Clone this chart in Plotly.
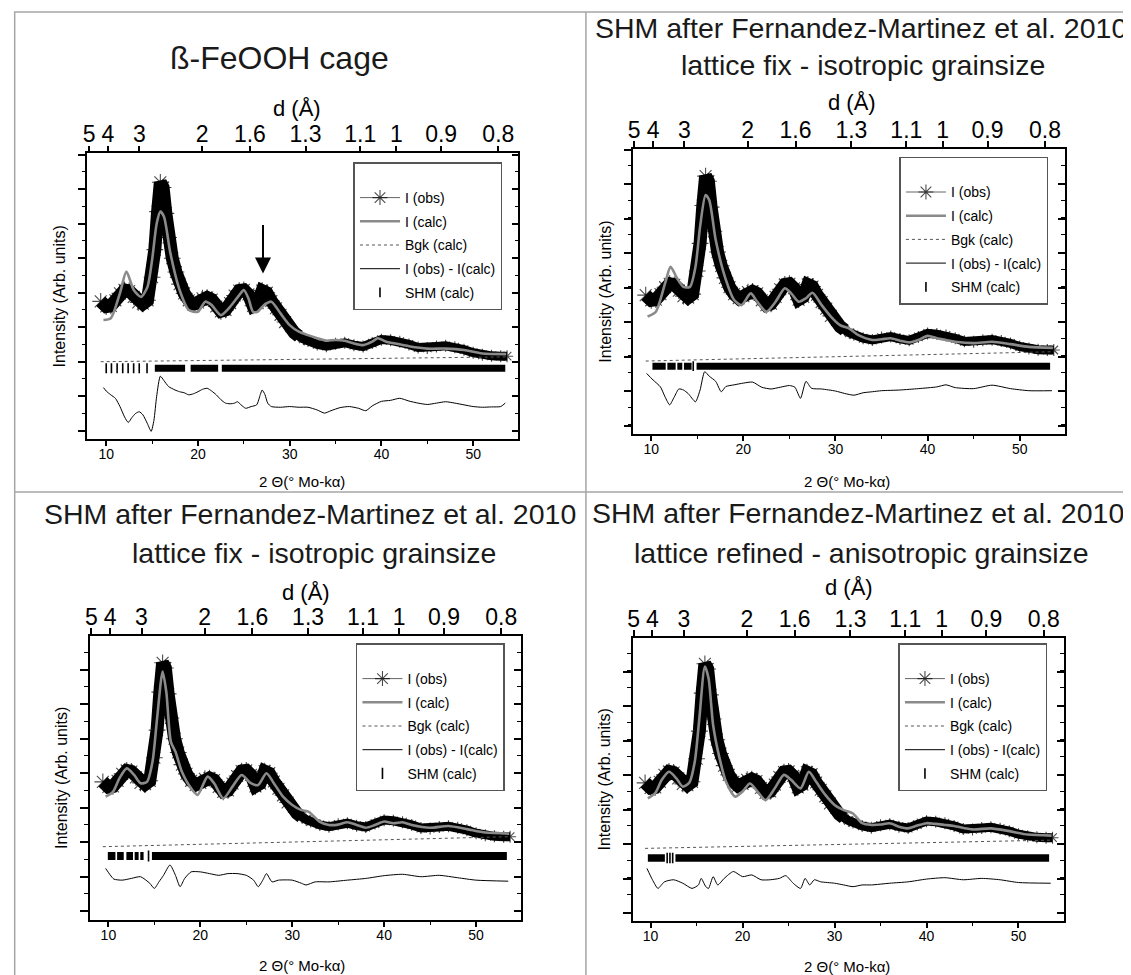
import numpy as np
import plotly.graph_objects as go

# page is 1131x975; the html body keeps an 8px margin at top/left
PAGE_W, PAGE_H, OFF = 1131, 975, 8
W, H = PAGE_W - OFF, PAGE_H - OFF
FONT = "Liberation Sans, Arial, sans-serif"
LAMBDA = 0.7107  # Mo K-alpha wavelength (Angstrom)

# ---------------- data ----------------
# observed pattern (same sample in all four panels)
obs_tth = [9.4, 10.0, 10.5, 11.0, 11.5, 12.0, 12.5, 13.0, 13.5, 14.0, 14.5, 15.0, 15.3, 15.6,
           15.9, 16.2, 16.5, 16.8, 17.2, 17.6, 18.0, 18.5, 19.0, 19.5, 20.0, 20.5, 21.0, 21.5,
           22.0, 22.5, 23.0, 23.5, 24.0, 24.5, 25.0, 25.5, 26.0, 26.5, 27.0, 27.5, 28.0, 28.5,
           29.0, 29.5, 30.0, 30.5, 31.0, 31.5, 32.0, 33.0, 34.0, 35.0, 36.0, 37.0, 38.0, 39.0,
           40.0, 41.0, 42.0, 43.0, 44.0, 45.0, 46.0, 47.0, 48.0, 49.0, 50.0, 51.0, 52.0, 53.0, 53.7]
obs_int = [1.75, 1.60, 1.62, 1.78, 1.98, 2.08, 2.05, 1.88, 1.72, 1.68, 1.78, 2.45, 3.25, 4.35,
           5.20, 5.05, 4.30, 3.60, 3.00, 2.60, 2.25, 1.98, 1.78, 1.66, 1.72, 1.84, 1.86, 1.80,
           1.60, 1.46, 1.50, 1.70, 1.92, 2.06, 2.08, 1.95, 1.62, 1.70, 2.06, 2.00, 1.76, 1.55,
           1.36, 1.15, 0.98, 0.84, 0.74, 0.66, 0.60, 0.50, 0.45, 0.52, 0.55, 0.48, 0.44, 0.54,
           0.64, 0.62, 0.58, 0.50, 0.41, 0.40, 0.44, 0.46, 0.42, 0.35, 0.26, 0.20, 0.17, 0.16, 0.16]

# panel 1: beta-FeOOH cage
calc1_tth = [9.7, 10.5, 11.5, 12.2, 13.0, 13.8, 14.5, 15.0, 15.5, 15.9, 16.3, 17.0, 18.0, 19.0,
             20.0, 20.8, 21.5, 22.5, 23.5, 24.5, 25.0, 25.5, 26.0, 26.5, 27.2, 28.0, 29.0, 30.0,
             31.0, 32.0, 33.0, 34.0, 35.0, 36.0, 37.0, 38.0, 39.0, 39.6, 40.5, 41.5, 43.0, 45.0,
             47.0, 49.0, 51.0, 53.6]
calc1_int = [1.21, 1.26, 1.99, 2.61, 2.08, 1.88, 2.17, 2.95, 4.00, 4.35, 4.20, 3.14, 2.08, 1.50,
             1.45, 1.74, 1.64, 1.35, 1.59, 1.93, 2.08, 1.84, 1.45, 1.45, 1.64, 1.74, 1.40, 1.06,
             0.87, 0.77, 0.68, 0.61, 0.63, 0.61, 0.53, 0.48, 0.58, 0.68, 0.58, 0.53, 0.45, 0.38,
             0.38, 0.34, 0.24, 0.22]
diff1_tth = [9.7, 10.0, 10.5, 11.0, 11.5, 12.0, 12.4, 12.8, 13.2, 13.6, 14.0, 14.5, 14.9, 15.2,
             15.5, 15.9, 16.3, 16.8, 17.5, 18.0, 18.5, 19.0, 19.5, 20.0, 20.5, 21.0, 21.5, 22.0,
             22.5, 23.0, 23.5, 24.0, 24.3, 24.7, 25.2, 25.8, 26.4, 26.8, 27.0, 27.3, 27.6, 28.0,
             29.0, 30.0, 31.0, 32.0, 33.0, 33.8, 34.5, 35.5, 36.5, 37.5, 38.3, 39.0, 40.0, 41.0,
             42.0, 43.0, 44.0, 45.0, 46.0, 47.0, 48.0, 49.0, 50.0, 51.0, 52.0, 53.0, 53.5]
diff1_int = [-0.75, -0.85, -0.96, -1.06, -1.30, -1.60, -1.76, -1.62, -1.50, -1.45, -1.54, -1.80,
             -2.02, -1.70, -1.00, -0.42, -0.55, -0.72, -0.82, -0.87, -0.90, -0.96, -0.93, -0.87,
             -0.80, -0.77, -0.85, -0.96, -1.10, -1.20, -1.22, -1.20, -1.16, -1.25, -1.35, -1.30,
             -1.25, -0.95, -0.82, -0.95, -1.20, -1.30, -1.32, -1.30, -1.32, -1.32, -1.40, -1.49,
             -1.42, -1.33, -1.30, -1.35, -1.42, -1.28, -1.15, -1.12, -1.06, -1.14, -1.20, -1.24,
             -1.20, -1.16, -1.20, -1.25, -1.30, -1.32, -1.31, -1.30, -1.20]
bgk1_tth = [9.4, 31.5, 53.7]
bgk1_int = [0.00, 0.07, 0.14]
shm1_ticks = [10.0, 10.57, 11.19, 11.8, 12.39, 12.99, 13.6, 14.45]
shm1_bands = [(15.3, 18.6), (19.2, 22.2), (22.6, 53.5)]

# panel 2: SHM, lattice fix - isotropic grainsize
calc2_tth = [9.6, 10.5, 11.5, 12.1, 12.8, 13.5, 14.2, 14.8, 15.3, 15.9, 16.3, 17.0, 18.0, 19.0,
             19.8, 20.8, 21.5, 22.5, 23.5, 24.5, 25.2, 26.0, 26.8, 27.5, 28.5, 29.5, 30.5, 31.5,
             32.5, 34.0, 35.0, 36.0, 37.0, 38.0, 39.0, 40.0, 41.0, 42.0, 43.0, 45.0, 47.0, 49.0,
             51.0, 53.6]
calc2_int = [1.13, 1.27, 2.09, 2.57, 2.24, 1.99, 1.99, 2.57, 3.73, 4.65, 4.50, 3.35, 2.28, 1.61,
             1.46, 1.80, 1.56, 1.27, 1.56, 1.95, 1.80, 1.56, 1.66, 1.82, 1.46, 1.13, 0.88, 0.78,
             0.59, 0.45, 0.47, 0.50, 0.43, 0.38, 0.45, 0.57, 0.50, 0.45, 0.40, 0.36, 0.40, 0.33,
             0.25, 0.22]
diff2_tth = [9.5, 10.2, 11.0, 11.5, 12.0, 12.5, 13.0, 13.5, 14.0, 14.8, 15.3, 15.8, 16.3, 17.0,
             17.6, 18.1, 19.0, 20.0, 21.0, 22.0, 23.0, 24.0, 25.0, 25.6, 26.2, 26.8, 27.4, 28.5,
             30.0, 31.0, 32.0, 33.0, 34.0, 35.0, 37.0, 39.0, 41.0, 42.0, 43.0, 45.0, 47.0, 49.0,
             51.0, 53.5]
diff2_int = [-0.52, -0.71, -0.91, -1.20, -1.43, -1.20, -0.97, -1.00, -1.10, -1.34, -1.00, -0.47,
             -0.60, -0.75, -1.05, -0.90, -0.85, -0.80, -0.77, -0.92, -0.97, -0.92, -0.87, -0.92,
             -1.24, -0.75, -0.95, -0.97, -1.03, -1.10, -1.15, -1.08, -1.05, -1.02, -1.00, -0.96,
             -0.91, -0.85, -0.93, -0.96, -0.86, -0.96, -1.02, -1.02]
bgk2_tth = [9.4, 31.5, 53.7]
bgk2_int = [-0.16, -0.03, 0.11]
shm2_ticks = [14.56]
shm2_bands = [(10.13, 11.57), (11.75, 12.65), (12.83, 13.37), (13.55, 14.38), (14.92, 53.3)]

# panel 3: SHM, lattice fix - isotropic grainsize
calc3_tth = [9.7, 10.5, 11.2, 12.0, 12.8, 13.5, 14.2, 14.8, 15.3, 15.9, 16.3, 16.8, 17.3, 18.0,
             19.0, 19.7, 20.8, 21.5, 22.5, 23.5, 24.5, 25.5, 26.3, 27.2, 28.0, 29.0, 30.0, 31.0,
             31.8, 33.0, 34.0, 35.0, 36.0, 37.0, 38.0, 39.0, 40.0, 41.0, 42.0, 43.0, 45.0, 47.0,
             49.0, 51.0, 53.6]
calc3_int = [1.32, 1.46, 1.85, 2.14, 1.95, 1.71, 1.75, 2.33, 3.59, 4.95, 4.36, 2.91, 2.62, 2.04,
             1.56, 1.37, 1.90, 1.71, 1.27, 1.61, 1.95, 1.71, 1.66, 2.00, 1.71, 1.32, 1.08, 0.93,
             0.88, 0.59, 0.50, 0.51, 0.58, 0.50, 0.42, 0.50, 0.60, 0.55, 0.58, 0.50, 0.42, 0.47,
             0.38, 0.28, 0.25]
diff3_tth = [9.7, 10.2, 10.6, 11.5, 12.5, 13.5, 14.5, 15.0, 15.5, 16.0, 16.7, 17.3, 17.8, 18.3,
             19.0, 20.0, 21.0, 22.0, 23.0, 24.0, 25.0, 25.8, 26.3, 26.8, 27.2, 27.8, 28.5, 30.0,
             31.0, 31.5, 32.5, 34.0, 36.0, 38.0, 40.0, 42.0, 44.0, 46.0, 48.0, 50.0, 53.5]
diff3_int = [-0.76, -0.95, -1.07, -1.10, -1.05, -1.00, -1.19, -1.34, -1.15, -0.96, -0.66, -0.96,
             -1.29, -1.05, -0.86, -0.86, -0.91, -0.96, -0.91, -0.91, -0.96, -1.10, -1.29, -1.10,
             -0.91, -1.15, -1.10, -1.10, -1.19, -1.24, -1.15, -1.15, -1.10, -1.05, -0.97, -0.93,
             -1.00, -0.96, -1.03, -1.10, -1.13]
bgk3_tth = [9.4, 31.5, 53.7]
bgk3_int = [-0.13, 0.01, 0.16]
shm3_ticks = [14.37]
shm3_bands = [(9.94, 10.77), (10.95, 11.67), (11.96, 12.68), (12.86, 13.29), (13.47, 13.83),
              (14.74, 53.35)]

# panel 4: SHM, lattice refined - anisotropic grainsize
calc4_tth = [9.7, 10.5, 11.2, 12.0, 12.8, 13.5, 14.2, 14.8, 15.3, 15.9, 16.3, 16.8, 17.5, 18.2,
             19.2, 20.0, 20.8, 21.5, 22.5, 23.5, 24.5, 25.3, 26.3, 27.2, 28.0, 29.0, 30.0, 31.0,
             32.0, 33.0, 34.0, 35.0, 36.0, 37.0, 38.0, 39.0, 40.0, 41.0, 42.0, 43.0, 45.0, 47.0,
             49.0, 51.0, 53.6]
calc4_int = [1.30, 1.45, 1.83, 2.07, 1.88, 1.64, 1.75, 2.36, 3.62, 5.12, 4.78, 3.42, 2.46, 1.78,
             1.35, 1.50, 1.73, 1.54, 1.25, 1.59, 1.98, 1.83, 1.59, 2.07, 1.78, 1.40, 1.11, 0.96,
             0.86, 0.58, 0.53, 0.54, 0.58, 0.48, 0.43, 0.51, 0.58, 0.56, 0.53, 0.50, 0.40, 0.43,
             0.35, 0.25, 0.22]
diff4_tth = [9.6, 10.2, 10.8, 11.5, 12.5, 13.5, 14.5, 15.2, 15.5, 16.0, 16.3, 16.8, 17.3, 18.0,
             19.0, 20.0, 21.0, 22.0, 23.0, 24.0, 24.7, 25.5, 26.3, 26.8, 27.3, 27.8, 28.5, 30.0,
             31.0, 32.0, 33.0, 34.0, 36.0, 38.0, 40.0, 42.0, 44.0, 46.0, 48.0, 50.0, 53.5]
diff4_int = [-0.73, -1.06, -1.31, -1.12, -1.06, -1.16, -1.31, -1.21, -1.02, -1.26, -1.31, -0.97,
             -1.21, -1.02, -0.82, -0.97, -0.92, -1.06, -1.06, -1.02, -0.94, -1.16, -1.31, -1.02,
             -1.21, -1.06, -1.12, -1.16, -1.21, -1.26, -1.21, -1.21, -1.16, -1.12, -1.04, -1.00,
             -1.06, -1.02, -1.06, -1.14, -1.16]
bgk4_tth = [9.4, 31.5, 53.7]
bgk4_int = [-0.15, -0.03, 0.09]
shm4_ticks = [11.8, 12.1, 12.4]
shm4_bands = [(9.7, 11.55), (12.7, 53.33)]

# top axis: d-spacing ticks
d_ticks = [5, 4, 3, 2, 1.6, 1.3, 1.1, 1, 0.9, 0.8]
d_labels = ["5", "4", "3", "2", "1.6", "1.3", "1.1", "1", "0.9", "0.8"]

titles = [["ß-FeOOH cage"],
          ["SHM after Fernandez-Martinez et al. 2010", "lattice fix - isotropic grainsize"],
          ["SHM after Fernandez-Martinez et al. 2010", "lattice fix - isotropic grainsize"],
          ["SHM after Fernandez-Martinez et al. 2010", "lattice refined - anisotropic grainsize"]]

# ---------------- layout parameters (pixels of the 1131x975 page) ----------------
panels = [
    dict(calc=(calc1_tth, calc1_int), diff=(diff1_tth, diff1_int), bgk=(bgk1_tth, bgk1_int),
         ticks=shm1_ticks, bands=shm1_bands,
         frame=(81.8, 515.1, 153.3, 439.3), xr=[7.95, 54.93], yr=[-2.249, 6.041], tick0=0.0,
         shm_y=-0.19, shm_px=7, legend=(499.1, 162.3), dlabel=(292.5, 108), xlabel=(298, 481),
         title_pos=[(275.4, 58, 32)]),
    dict(calc=(calc2_tth, calc2_int), diff=(diff2_tth, diff2_int), bgk=(bgk2_tth, bgk2_int),
         ticks=shm2_ticks, bands=shm2_bands,
         frame=(630.7, 1064.3, 149.0, 434.0), xr=[8.06, 54.88], yr=[-2.275, 5.986], tick0=-0.03,
         shm_y=-0.31, shm_px=7, legend=(1048.0, 156.7), dlabel=(850, 102), xlabel=(845, 481),
         title_pos=[(860, 28, 28.5), (862, 65, 28.5)]),
    dict(calc=(calc3_tth, calc3_int), diff=(diff3_tth, diff3_int), bgk=(bgk3_tth, bgk3_int),
         ticks=shm3_ticks, bands=shm3_bands,
         frame=(84.3, 517.3, 635.7, 920.0), xr=[7.99, 54.84], yr=[-2.255, 5.986], tick0=0.0,
         shm_y=-0.40, shm_px=8, legend=(501.6, 643.3), dlabel=(302, 592), xlabel=(298, 965),
         title_pos=[(306, 514, 28.5), (310, 553, 28.5)]),
    dict(calc=(calc4_tth, calc4_int), diff=(diff4_tth, diff4_int), bgk=(bgk4_tth, bgk4_int),
         ticks=shm4_ticks, bands=shm4_bands,
         frame=(630.0, 1063.2, 637.7, 921.0), xr=[8.05, 54.90], yr=[-2.255, 5.957], tick0=-0.03,
         shm_y=-0.43, shm_px=7.5, legend=(1047.0, 643.3), dlabel=(847, 587), xlabel=(845, 966),
         title_pos=[(857, 513, 28.5), (860, 553, 28.5)]),
]

# d-spacing -> 2theta (Bragg's law, Mo K-alpha)
d_tth = [2 * np.degrees(np.arcsin(LAMBDA / (2 * d))) for d in d_ticks]

obs_x = np.array(obs_tth)
obs_y = np.array(obs_int)
low = obs_x <= 31.0
high = obs_x >= 30.0
ast_size = np.where(obs_x < 30, 14, 10)

fig = go.Figure()
layout = dict(width=W, height=H, autosize=False, margin=dict(l=0, r=0, t=0, b=0),
              paper_bgcolor="white", plot_bgcolor="white",
              font=dict(family=FONT, color="black"), showlegend=True)
annotations = []
shapes = []


def px_x(v):
    return (v - OFF) / W


def px_y(v):
    return 1 - (v - OFF) / H


def text_ann(text, x, y, size, color="black"):
    return dict(text=text, x=px_x(x), y=px_y(y), xref="paper", yref="paper",
                xanchor="center", yanchor="middle", showarrow=False,
                font=dict(size=size, family=FONT, color=color))


for i, p in enumerate(panels):
    n = i + 1
    sx = "" if n == 1 else str(n)
    xa, ya = "x" + sx, "y" + sx
    xt, yr_ = "x" + str(n + 4), "y" + str(n + 4)
    lg = "legend" if n == 1 else "legend" + str(n)
    L, R, T, B = p["frame"]

    # I(obs): asterisks (legend entry with thin line)
    fig.add_trace(go.Scatter(
        x=obs_tth, y=obs_int, mode="lines+markers", name="I (obs)",
        line=dict(color="#666666", width=1),
        marker=dict(symbol="asterisk", size=ast_size, color="black",
                    line=dict(color="black", width=1.1)),
        xaxis=xa, yaxis=ya, legend=lg, legendgroup="obs%d" % n, hoverinfo="skip"))
    # dense observed band
    fig.add_trace(go.Scatter(
        x=obs_x[low], y=obs_y[low], mode="lines", line=dict(color="black", width=13),
        showlegend=False, xaxis=xa, yaxis=ya, hoverinfo="skip"))
    fig.add_trace(go.Scatter(
        x=obs_x[high], y=obs_y[high], mode="lines", line=dict(color="black", width=9),
        showlegend=False, xaxis=xa, yaxis=ya, hoverinfo="skip"))
    # I(calc)
    fig.add_trace(go.Scatter(
        x=p["calc"][0], y=p["calc"][1], mode="lines", name="I (calc)",
        line=dict(color="#8a8a8a", width=2.6, shape="spline", smoothing=0.7),
        xaxis=xa, yaxis=ya, legend=lg, legendgroup="calc%d" % n, hoverinfo="skip"))
    # background (drawn on the top/right overlay axes, same ranges)
    fig.add_trace(go.Scatter(
        x=p["bgk"][0], y=p["bgk"][1], mode="lines", name="Bgk (calc)",
        line=dict(color="#555555", width=1, dash="3px,3px"),
        xaxis=xt, yaxis=yr_, legend=lg, legendgroup="bgk%d" % n, hoverinfo="skip"))
    # difference
    fig.add_trace(go.Scatter(
        x=p["diff"][0], y=p["diff"][1], mode="lines", name="I (obs) - I(calc)",
        line=dict(color="black", width=1, shape="spline", smoothing=0.6),
        xaxis=xa, yaxis=ya, legend=lg, legendgroup="diff%d" % n, hoverinfo="skip"))
    # SHM reflection ticks
    fig.add_trace(go.Scatter(
        x=p["ticks"], y=[p["shm_y"]] * len(p["ticks"]), mode="markers", name="SHM (calc)",
        marker=dict(symbol="line-ns", size=p["shm_px"], color="black",
                    line=dict(color="black", width=1.6)),
        xaxis=xa, yaxis=ya, legend=lg, legendgroup="shm%d" % n, hoverinfo="skip"))
    bx, by = [], []
    for s, e in p["bands"]:
        bx += [s, e, None]
        by += [p["shm_y"], p["shm_y"], None]
    fig.add_trace(go.Scatter(
        x=bx, y=by, mode="lines", line=dict(color="black", width=p["shm_px"]),
        showlegend=False, xaxis=xa, yaxis=ya, hoverinfo="skip"))

    xdom = [px_x(L), px_x(R)]
    ydom = [px_y(B), px_y(T)]
    layout["xaxis" + sx] = dict(
        domain=xdom, range=p["xr"], anchor=ya, tick0=10, dtick=10,
        ticks="outside", ticklen=5, tickwidth=1.5, tickcolor="black",
        showline=True, linewidth=1.6, linecolor="black", showgrid=False, zeroline=False,
        tickfont=dict(size=14, family=FONT), ticklabelstandoff=-4,
        minor=dict(dtick=5, tick0=10, ticks="outside", ticklen=3, tickwidth=1.3, tickcolor="black"))
    layout["yaxis" + sx] = dict(
        domain=ydom, range=p["yr"], anchor=xa, tick0=p["tick0"], dtick=1,
        ticks="outside", ticklen=8, tickwidth=1.5, tickcolor="black", showticklabels=False,
        showline=True, linewidth=1.6, linecolor="black", showgrid=False, zeroline=False,
        minor=dict(dtick=0.5, ticks="outside", ticklen=4, tickwidth=1.3, tickcolor="black"),
        title=dict(text="Intensity (Arb. units)", font=dict(size=16, family=FONT), standoff=8))
    layout["xaxis" + str(n + 4)] = dict(
        overlaying=xa, side="top", anchor=ya, range=p["xr"],
        tickmode="array", tickvals=d_tth, ticktext=d_labels,
        ticks="outside", ticklen=6, tickwidth=1.5, tickcolor="black",
        showline=True, linewidth=1.6, linecolor="black", showgrid=False, zeroline=False,
        tickfont=dict(size=23, family=FONT), ticklabelstandoff=-6)
    layout["yaxis" + str(n + 4)] = dict(
        overlaying=ya, side="right", anchor=xa, range=p["yr"], tick0=p["tick0"], dtick=1,
        ticks="inside", ticklen=7, tickwidth=1.5, tickcolor="black", showticklabels=False,
        showline=True, linewidth=1.6, linecolor="black", showgrid=False, zeroline=False,
        minor=dict(dtick=0.5, ticks="inside", ticklen=4, tickwidth=1.3, tickcolor="black"))

    lx, ly = p["legend"]
    layout[lg] = dict(
        x=px_x(lx), y=px_y(ly), xanchor="right", yanchor="top",
        bgcolor="white", bordercolor="#555555", borderwidth=1.5,
        font=dict(size=14, family=FONT, color="black"),
        tracegroupgap=2.5, itemwidth=40,
        title=dict(text="&nbsp;", font=dict(size=14)))

    for (tx, ty, fs), text in zip(p["title_pos"], titles[i]):
        annotations.append(text_ann(text, tx, ty, fs, "#1a1a1a"))
    annotations.append(text_ann("d (Å)", *p["dlabel"], 22))
    annotations.append(text_ann("2 Θ(° Mo-kα)", *p["xlabel"], 15))

# arrow marking the 27 deg peak in panel 1
annotations.append(dict(x=27.09, y=2.56, xref="x", yref="y", ax=0, ay=-50, text="",
                        showarrow=True, arrowhead=2, arrowsize=1.6, arrowwidth=2,
                        arrowcolor="black"))

# grey panel dividers / border
GREY = "#a6a6a6"
for (x0, y0, x1, y1) in [(583, 12, 583, 975), (8, 492, 1131, 492),
                         (8.7, 12, 8.7, 975), (8, 12, 1131, 12)]:
    shapes.append(dict(type="line", xref="paper", yref="paper",
                       x0=px_x(x0), y0=px_y(y0), x1=px_x(x1), y1=px_y(y1),
                       line=dict(color=GREY, width=1.5), layer="below"))

layout["annotations"] = annotations
layout["shapes"] = shapes
fig.update_layout(**layout)
fig.write_html("out.html")
